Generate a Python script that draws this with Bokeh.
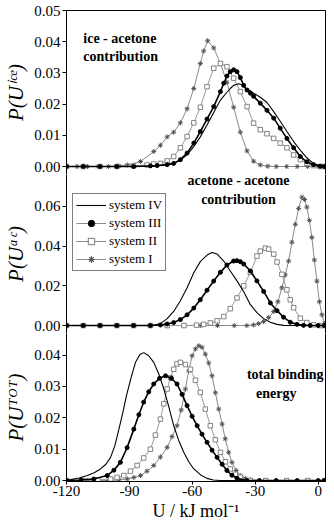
from bokeh.plotting import figure
from bokeh.layouts import column
from bokeh.models import (Range1d, FixedTicker, NumeralTickFormatter, PrintfTickFormatter,
                          LinearAxis, Label, Legend, LegendItem)
from bokeh.embed import file_html
from bokeh.resources import INLINE

# ---------------- data ----------------
x_ticks = [-120, -90, -60, -30, 0]
ice_ticks = [0.0, 0.01, 0.02, 0.03, 0.04, 0.05]
ac_ticks = [0.0, 0.02, 0.04, 0.06]
tot_ticks = [0.0, 0.01, 0.02, 0.03, 0.04]
series_names = ["system IV", "system III", "system II", "system I"]

# ice - acetone contribution
ice_IV_x = [-120, -110, -100, -90, -80, -72, -68.9, -65.7, -62.5, -59.3, -56.2, -53, -49.8, -46.6, -43.5, -41.9, -40.3, -37.9, -36.3, -34.7, -32.3, -30.8, -27.6, -24.4, -21.2, -18.1, -14.9, -11.7, -8.5, -5.4, -2.2, 1, 3]
ice_IV_y = [0, 0, 0, 0, 0.0001, 0.0005, 0.001, 0.002, 0.0038, 0.0064, 0.0095, 0.0133, 0.0173, 0.0213, 0.0238, 0.025, 0.026, 0.0265, 0.0262, 0.025, 0.0242, 0.0235, 0.0222, 0.0205, 0.0176, 0.0145, 0.0112, 0.008, 0.0052, 0.0028, 0.0009, 0.0002, 0]
ice_III_x = [-120, -112, -104, -96, -88, -80, -76.8, -72, -68.9, -65.7, -62.5, -59.3, -56.2, -53, -49.8, -46.6, -45, -43.5, -41.9, -40.3, -38.7, -37.1, -35.5, -33.9, -32.3, -30.8, -27.6, -24.4, -21.2, -18.1, -14.9, -11.7, -8.5, -5.4, -2.2, 1, 3]
ice_III_y = [0, 0, 0, 0, 0, 0.0002, 0.0003, 0.0006, 0.001, 0.0022, 0.0043, 0.0075, 0.0112, 0.0152, 0.0192, 0.024, 0.0267, 0.029, 0.0304, 0.031, 0.0304, 0.0285, 0.026, 0.0245, 0.0235, 0.0225, 0.0203, 0.018, 0.0155, 0.0123, 0.009, 0.006, 0.0032, 0.0015, 0.0006, 0.0001, 0]
ice_II_x = [-120, -112, -104, -96, -88, -81.6, -78.4, -75.2, -72, -68.9, -65.7, -62.5, -59.3, -56.2, -53, -49.8, -46.6, -43.5, -40.3, -37.1, -33.9, -30.8, -27.6, -24.4, -21.2, -18.1, -14.9, -11.7, -8.5, -5.4, -2.2, 1, 3]
ice_II_y = [0, 0, 0, 0, 0.0002, 0.0005, 0.0008, 0.001, 0.0018, 0.0032, 0.006, 0.0096, 0.014, 0.019, 0.0256, 0.0315, 0.033, 0.032, 0.0283, 0.024, 0.0192, 0.0139, 0.0118, 0.0105, 0.009, 0.0075, 0.006, 0.0037, 0.0022, 0.001, 0.0003, 0, 0]
ice_I_x = [-120, -115, -110, -105, -100, -95, -91, -84.7, -78.4, -75.2, -72, -68.9, -65.7, -62.5, -59.3, -56.2, -54.6, -52.7, -49.8, -46.6, -43.5, -40.3, -37.1, -33.9, -30.8, -27.6, -24, -20, -15, -10, -5, 0, 3]
ice_I_y = [0, 0, 0, 0, 0, 0.0002, 0.0005, 0.0016, 0.0048, 0.0068, 0.0095, 0.011, 0.014, 0.0185, 0.025, 0.033, 0.037, 0.0403, 0.038, 0.033, 0.027, 0.019, 0.011, 0.005, 0.0017, 0.0005, 0.0001, 0, 0, 0, 0, 0, 0]

# acetone - acetone contribution
ac_IV_x = [-120, -110, -100, -90, -82, -78.4, -75.2, -72, -68.9, -65.7, -62.5, -59.3, -56.2, -53, -50.6, -48.2, -45, -41.9, -38.7, -35.5, -32.3, -29.2, -26, -22.8, -19.6, -16.5, -10, -5, 0, 3]
ac_IV_y = [0, 0, 0, 0, 0, 0.0002, 0.001, 0.0035, 0.0071, 0.0125, 0.019, 0.0266, 0.0322, 0.0355, 0.0368, 0.036, 0.0325, 0.0275, 0.0225, 0.017, 0.0105, 0.0065, 0.0035, 0.0017, 0.0006, 0.0001, 0, 0, 0, 0]
ac_III_x = [-120, -112, -104, -96, -88, -80, -75.2, -72, -68.9, -65.7, -62.5, -59.3, -56.2, -53, -49.8, -46.6, -43.5, -40.3, -38.7, -37.1, -35.5, -32.3, -29.2, -26, -22.8, -19.6, -16.5, -13.3, -10.1, -7, -3.8, 0, 3]
ac_III_y = [0, 0, 0, 0, 0, 0, 0.0003, 0.0008, 0.0015, 0.003, 0.0054, 0.0088, 0.013, 0.0178, 0.0224, 0.0268, 0.0305, 0.0325, 0.0327, 0.0322, 0.031, 0.0275, 0.0225, 0.0172, 0.0114, 0.0075, 0.0042, 0.0017, 0.0006, 0.0001, 0, 0, 0]
ac_II_x = [-120, -112, -104, -96, -88, -80, -72, -64, -58, -54.6, -51.4, -48.2, -45, -41.9, -38.7, -35.5, -32.3, -29.2, -27.6, -25.2, -23.6, -21.2, -19.6, -17.3, -14.9, -13.3, -11.7, -8.5, -5.4, -2.2, 1, 3]
ac_II_y = [0, 0, 0, 0, 0, 0, 0, 0, 0.0002, 0.0006, 0.0013, 0.0024, 0.0045, 0.0085, 0.0139, 0.02, 0.0268, 0.035, 0.0375, 0.039, 0.0385, 0.036, 0.032, 0.0258, 0.018, 0.013, 0.009, 0.0037, 0.0015, 0.0004, 0, 0]
ac_I_x = [-120, -112, -104, -96, -88, -80, -72, -64, -56, -48, -40, -34, -30.8, -28.4, -26, -23.6, -21.2, -19.2, -17.3, -15.7, -14.1, -12.5, -10.9, -9.3, -7.7, -6.5, -5.4, -4.2, -3, -1.8, -0.6, 0.6, 1.8, 3]
ac_I_y = [0, 0, 0, 0, 0, 0, 0, 0, 0, 0, 0, 0, 0.0003, 0.001, 0.002, 0.004, 0.0071, 0.012, 0.019, 0.0255, 0.0325, 0.042, 0.051, 0.059, 0.0647, 0.0635, 0.0597, 0.053, 0.0444, 0.033, 0.0224, 0.012, 0.0054, 0.001]

# total binding energy
tot_IV_x = [-120, -118.1, -114, -110.1, -106.8, -103.8, -101.2, -99, -97, -95, -93.2, -91.4, -89.2, -87.1, -85, -83.1, -80.8, -78.4, -76, -73.6, -71.2, -68.9, -66.5, -64.1, -61.7, -59.3, -56, -53, -50, -46.6, -40, -30, -20, -10, 0, 3]
tot_IV_y = [0.0002, 0.0003, 0.0008, 0.0016, 0.0025, 0.0037, 0.0052, 0.0074, 0.011, 0.0164, 0.0215, 0.0271, 0.0328, 0.0377, 0.0402, 0.0408, 0.0398, 0.0377, 0.034, 0.0292, 0.0235, 0.0175, 0.0128, 0.009, 0.006, 0.0037, 0.0018, 0.0007, 0.0002, 0, 0, 0, 0, 0, 0, 0]
tot_III_x = [-120, -113, -107, -100.6, -97.4, -94.3, -91.1, -87.9, -85.5, -83.2, -80.8, -78.4, -75.6, -72.8, -70, -67.3, -64.9, -62.5, -60.1, -57.7, -55.4, -53, -50.6, -48.2, -45.8, -43.5, -41.1, -38.7, -34, -28, -20, -10, 0, 3]
tot_III_y = [0, 0.0002, 0.0005, 0.0016, 0.0033, 0.0058, 0.0105, 0.0164, 0.021, 0.025, 0.0283, 0.0308, 0.0326, 0.0334, 0.0326, 0.0308, 0.0275, 0.0239, 0.0205, 0.0175, 0.0148, 0.0122, 0.0097, 0.0074, 0.0052, 0.0032, 0.0017, 0.0007, 0, 0, 0, 0, 0, 0]
tot_II_x = [-120, -112, -105, -99, -95.9, -92.7, -89.5, -86.3, -83.2, -80, -77.6, -75.2, -73.6, -72, -70.4, -68.9, -67.3, -65.7, -63.3, -60.9, -58.5, -56.2, -53.8, -51.4, -49, -46.6, -44.2, -41.9, -39.5, -37.1, -32.3, -25, -15, -5, 3]
tot_II_y = [0, 0, 0.0002, 0.0005, 0.001, 0.0016, 0.003, 0.0048, 0.0072, 0.01, 0.0145, 0.0196, 0.0245, 0.0292, 0.0328, 0.0355, 0.0372, 0.0377, 0.037, 0.0355, 0.032, 0.0281, 0.0228, 0.0175, 0.013, 0.009, 0.006, 0.0037, 0.002, 0.0011, 0, 0, 0, 0, 0]
tot_I_x = [-120, -110, -100, -95, -91, -87.9, -84.7, -81.6, -78.4, -75.2, -72, -69.7, -67.3, -65.3, -63.3, -61.7, -60.1, -58.5, -56.9, -55.4, -53.8, -52.2, -50.6, -49, -47.4, -45.8, -44.3, -42.7, -41.1, -39.1, -37.1, -34.7, -32.3, -25, -15, -5, 3]
tot_I_y = [0, 0, 0, 0.0002, 0.0005, 0.001, 0.0016, 0.003, 0.0048, 0.0075, 0.0106, 0.014, 0.0175, 0.0225, 0.0292, 0.035, 0.0398, 0.042, 0.043, 0.0425, 0.0403, 0.0375, 0.0334, 0.028, 0.0228, 0.018, 0.0133, 0.009, 0.0058, 0.0032, 0.0016, 0.0007, 0.0002, 0, 0, 0, 0]

y_labels = ["P(U\u2071\u1d9c\u1d49)", "P(U\u1d43\u1d9c)", "P(U\u1d40\u1d3c\u1d40)"]
x_label = "U / kJ mol\u207b\u00b9"

# ---------------- styling ----------------
SERIF = "Liberation Serif"
XR = (-120, 3.5)


def make_fig(height, y0, y1, top, bottom, yticks, ylab, with_x=False, with_top=False):
    p = figure(width=334, height=height, output_backend="svg", toolbar_location=None,
               x_range=Range1d(*XR), y_range=Range1d(y0, y1),
               x_axis_location="below" if with_x else None,
               min_border_left=66, min_border_right=9,
               min_border_top=top, min_border_bottom=bottom)
    p.outline_line_color = None
    p.background_fill_color = "white"
    p.border_fill_color = "white"
    p.xgrid.visible = False
    p.ygrid.visible = False
    ya = p.yaxis[0]
    ya.ticker = FixedTicker(ticks=yticks)
    ya.formatter = NumeralTickFormatter(format="0.00")
    ya.major_tick_out = 4
    ya.major_tick_in = 0
    ya.minor_tick_line_color = None
    ya.major_label_standoff = 2
    ya.major_label_text_font = SERIF
    ya.major_label_text_font_size = "15px"
    ya.major_label_text_color = "black"
    ya.axis_line_color = "black"
    ya.major_tick_line_color = "black"
    ya.axis_label = ylab
    ya.axis_label_text_font = SERIF
    ya.axis_label_text_font_style = "italic"
    ya.axis_label_text_font_size = "21px"
    ya.axis_label_text_color = "black"
    ya.axis_label_standoff = 3
    right = LinearAxis(ticker=FixedTicker(ticks=[]), major_tick_line_color=None,
                       minor_tick_line_color=None, major_label_text_font_size="0px",
                       major_label_standoff=0, axis_line_color="black")
    p.add_layout(right, "right")
    if with_top:
        topax = LinearAxis(ticker=FixedTicker(ticks=[]), major_tick_line_color=None,
                           minor_tick_line_color=None, major_label_text_font_size="0px",
                           major_label_standoff=0, axis_line_color="black")
        p.add_layout(topax, "above")
    if with_x:
        xa = p.xaxis[0]
        xa.ticker = FixedTicker(ticks=x_ticks)
        xa.formatter = PrintfTickFormatter(format="%d")
        xa.major_tick_out = 3
        xa.major_tick_in = 0
        xa.minor_tick_line_color = None
        xa.major_label_standoff = 1
        xa.major_label_text_font = SERIF
        xa.major_label_text_font_size = "15px"
        xa.major_label_text_color = "black"
        xa.axis_line_color = "black"
        xa.axis_label = x_label
        xa.axis_label_text_font = SERIF
        xa.axis_label_text_font_style = "normal"
        xa.axis_label_text_font_size = "18px"
        xa.axis_label_text_color = "black"
        xa.axis_label_standoff = 2
    return p


def draw_series(p, xs_list, ys_list):
    (x4, x3, x2, x1), (y4, y3, y2, y1) = xs_list, ys_list
    r = {}
    r["I_line"] = p.line(x1, y1, line_color="#8a8a8a", line_width=1)
    r["I_pts"] = p.scatter(x1, y1, marker="asterisk", size=5, line_color="#555555", line_width=1)
    r["II_line"] = p.line(x2, y2, line_color="#9a9a9a", line_width=1)
    r["II_pts"] = p.scatter(x2, y2, marker="square", size=4.5, line_color="#777777",
                            fill_color="white", line_width=0.9)
    r["III_line"] = p.line(x3, y3, line_color="black", line_width=1.6)
    r["III_pts"] = p.scatter(x3, y3, marker="circle", size=4, line_color="black", fill_color="black")
    r["IV_line"] = p.line(x4, y4, line_color="black", line_width=1.1)
    # larger markers used only as legend symbols (hidden in the plot area)
    r["III_big"] = p.scatter(x3, y3, marker="circle", size=10, line_color="black",
                             fill_color="black", visible=False)
    r["II_big"] = p.scatter(x2, y2, marker="square", size=9, line_color="#777777",
                            fill_color="white", visible=False)
    r["I_big"] = p.scatter(x1, y1, marker="asterisk", size=10, line_color="#555555",
                           line_width=1.2, visible=False)
    return r


def panel_text(p, x, y, txt, align="left"):
    p.add_layout(Label(x=x, y=y, text=txt, text_font=SERIF, text_font_style="bold",
                       text_font_size="14px", text_color="black", text_align=align))


# top panel (canvas rows 0-174)
p1 = make_fig(174, -0.00256, 0.05, 10, 0, ice_ticks, y_labels[0], with_top=True)
draw_series(p1, (ice_IV_x, ice_III_x, ice_II_x, ice_I_x), (ice_IV_y, ice_III_y, ice_II_y, ice_I_y))
panel_text(p1, -112, 0.0385, "ice - acetone")
panel_text(p1, -112, 0.0327, "contribution")

# middle panel (canvas rows 174-333)
p2 = make_fig(159, -0.0040, 0.0761, 0, 0, ac_ticks, y_labels[1])
rr = draw_series(p2, (ac_IV_x, ac_III_x, ac_II_x, ac_I_x), (ac_IV_y, ac_III_y, ac_II_y, ac_I_y))
panel_text(p2, -38, 0.0692, "acetone - acetone", align="center")
panel_text(p2, -38, 0.0596, "contribution", align="center")

legend = Legend(items=[
    LegendItem(label=series_names[0], renderers=[rr["IV_line"]]),
    LegendItem(label=series_names[1], renderers=[rr["I_line"], rr["III_big"]]),
    LegendItem(label=series_names[2], renderers=[rr["I_line"], rr["II_big"]]),
    LegendItem(label=series_names[3], renderers=[rr["I_line"], rr["I_big"]]),
], location=(6, 62))
legend.label_text_font = SERIF
legend.label_text_font_size = "13px"
legend.label_text_color = "black"
legend.glyph_width = 30
legend.glyph_height = 16
legend.label_height = 16
legend.spacing = 2
legend.padding = 3
legend.margin = 0
legend.label_standoff = 3
legend.border_line_color = "black"
legend.border_line_width = 1
legend.background_fill_alpha = 1
legend.inactive_fill_alpha = 0
p2.add_layout(legend, "center")

# bottom panel (canvas rows 333-523)
p3 = make_fig(190, -0.0003, 0.0469, 0, 40, tot_ticks, y_labels[2], with_x=True)
draw_series(p3, (tot_IV_x, tot_III_x, tot_II_x, tot_I_x), (tot_IV_y, tot_III_y, tot_II_y, tot_I_y))
panel_text(p3, -15.7, 0.0315, "total binding", align="center")
panel_text(p3, -20, 0.0255, "energy", align="center")

layout = column(p1, p2, p3, spacing=0)
open("out.html", "w").write(file_html(layout, INLINE))
